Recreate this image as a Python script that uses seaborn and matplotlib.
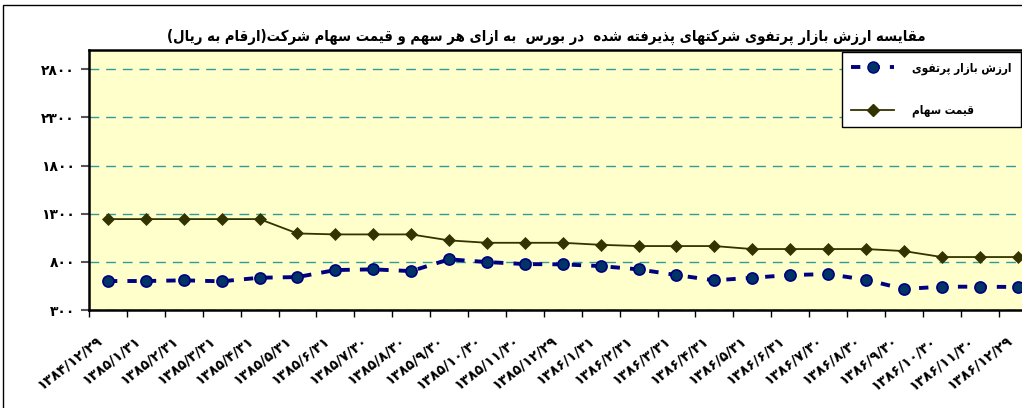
import numpy as np
import pandas as pd
import seaborn as sns
import matplotlib.pyplot as plt
from matplotlib.lines import Line2D
from matplotlib.patches import Rectangle
import matplotlib.transforms as mtransforms

# Data (values in rials)
dates = ['۱۳۸۴/۱۲/۲۹', '۱۳۸۵/۱/۳۱', '۱۳۸۵/۲/۳۱', '۱۳۸۵/۳/۳۱', '۱۳۸۵/۴/۳۱',
         '۱۳۸۵/۵/۳۱', '۱۳۸۵/۶/۳۱', '۱۳۸۵/۷/۳۰', '۱۳۸۵/۸/۳۰', '۱۳۸۵/۹/۳۰',
         '۱۳۸۵/۱۰/۳۰', '۱۳۸۵/۱۱/۳۰', '۱۳۸۵/۱۲/۲۹', '۱۳۸۶/۱/۳۱', '۱۳۸۶/۲/۳۱',
         '۱۳۸۶/۳/۳۱', '۱۳۸۶/۴/۳۱', '۱۳۸۶/۵/۳۱', '۱۳۸۶/۶/۳۱', '۱۳۸۶/۷/۳۰',
         '۱۳۸۶/۸/۳۰', '۱۳۸۶/۹/۳۰', '۱۳۸۶/۱۰/۳۰', '۱۳۸۶/۱۱/۳۰', '۱۳۸۶/۱۲/۲۹']
portfolio_value = [601, 601, 608, 598, 635, 642, 715, 722, 704, 826, 798, 777, 774,
                   756, 722, 663, 608, 635, 663, 673, 614, 518, 542, 542, 539]
share_price = [1244, 1244, 1244, 1244, 1244, 1095, 1085, 1085, 1085, 1023, 998, 998, 998,
               977, 964, 964, 964, 933, 933, 933, 933, 912, 850, 850, 850]
y_ticks = [300, 800, 1300, 1800, 2300, 2800]

title_fa = 'مقایسه ارزش بازار پرتفوی شرکتهای پذیرفته شده  در بورس  به ازای هر سهم و قیمت سهام شرکت(ارقام به ریال)'
label_portfolio = 'ارزش بازار پرتفوی'
label_price = 'قیمت سهام'

# matplotlib has no Arabic shaping: map letters to presentation forms, then reverse
FORMS = {
    'ا': ('\uFE8D', '\uFE8E'), 'د': ('\uFEA9', '\uFEAA'), 'ذ': ('\uFEAB', '\uFEAC'),
    'ر': ('\uFEAD', '\uFEAE'), 'ز': ('\uFEAF', '\uFEB0'), 'و': ('\uFEED', '\uFEEE'),
    'ب': ('\uFE8F', '\uFE90', '\uFE91', '\uFE92'), 'ت': ('\uFE95', '\uFE96', '\uFE97', '\uFE98'),
    'س': ('\uFEB1', '\uFEB2', '\uFEB3', '\uFEB4'), 'ش': ('\uFEB5', '\uFEB6', '\uFEB7', '\uFEB8'),
    'ف': ('\uFED1', '\uFED2', '\uFED3', '\uFED4'), 'ق': ('\uFED5', '\uFED6', '\uFED7', '\uFED8'),
    'ل': ('\uFEDD', '\uFEDE', '\uFEDF', '\uFEE0'), 'م': ('\uFEE1', '\uFEE2', '\uFEE3', '\uFEE4'),
    'ه': ('\uFEE9', '\uFEEA', '\uFEEB', '\uFEEC'), 'ی': ('\uFBFC', '\uFBFD', '\uFBFE', '\uFBFF'),
    'پ': ('\uFB56', '\uFB57', '\uFB58', '\uFB59'), 'ک': ('\uFB8E', '\uFB8F', '\uFB90', '\uFB91'),
}


def fa(s):
    out = []
    for i, c in enumerate(s):
        if c not in FORMS:
            out.append(c)
            continue
        f = FORMS[c]
        prev = s[i - 1] if i > 0 else ''
        nxt = s[i + 1] if i + 1 < len(s) else ''
        jp = prev in FORMS and len(FORMS[prev]) == 4
        jn = len(f) == 4 and nxt in FORMS
        if jp and jn:
            out.append(f[3])
        elif jp:
            out.append(f[1])
        elif jn:
            out.append(f[2])
        else:
            out.append(f[0])
    return ''.join(out)[::-1].translate(str.maketrans('()', ')('))


def fa_num(n):
    return str(n).translate(str.maketrans('0123456789', '۰۱۲۳۴۵۶۷۸۹'))


df = pd.DataFrame({'x': np.arange(len(dates)), 'date': dates,
                   'portfolio': portfolio_value, 'price': share_price})

plt.rcParams['font.family'] = ['DejaVu Sans']
fig = plt.figure(figsize=(10.22, 4.08), dpi=100)
ax = fig.add_axes([89 / 1022, 98 / 408, 947.5 / 1022, 260 / 408])
ax.set_facecolor('#FFFFCC')

c_port = '#000080'
c_price = '#333300'

sns.lineplot(data=df, x='x', y='price', ax=ax, color=c_price, lw=1.3,
             marker='D', markersize=6, markerfacecolor=c_price,
             markeredgecolor=c_price, markeredgewidth=0.5, legend=False, zorder=3)
sns.lineplot(data=df, x='x', y='portfolio', ax=ax, color=c_port, lw=2.8,
             linestyle=(0, (2.4, 2.6)), marker='o', markersize=8,
             markerfacecolor='#003366', markeredgecolor=c_port,
             markeredgewidth=1.2, legend=False, zorder=4)

ax.set_xlim(-0.5, len(dates) - 0.5)
ax.set_ylim(300, 3000)
ax.set_yticks(y_ticks)
ax.set_yticklabels([fa_num(v) for v in y_ticks], fontsize=10, fontweight='bold')
ax.yaxis.grid(True, color='#339999', linestyle=(0, (7, 5)), lw=1)
ax.set_axisbelow(True)
ax.tick_params(axis='y', length=6, width=1.5, color='#555555', pad=4)

ax.set_xticks(np.arange(len(dates)))
ax.set_xticklabels(dates, rotation=38, ha='right', va='center',
                   rotation_mode='anchor', fontsize=10, fontweight='bold')
ax.set_xticks(np.arange(len(dates) + 1) - 0.5, minor=True)
ax.tick_params(axis='x', which='major', length=0, pad=21)
ax.tick_params(axis='x', which='minor', length=5, width=1, color='black')
shift = mtransforms.ScaledTranslation(-8 / 100, 0, fig.dpi_scale_trans)
for lab in ax.get_xticklabels():
    lab.set_transform(lab.get_transform() + shift)

ax.set_xlabel('')
ax.set_ylabel('')
for s in ax.spines.values():
    s.set_linewidth(1.8)
    s.set_color('black')

fig.text(546 / 1022, 1 - 37 / 408, fa(title_fa), ha='center', va='center',
         fontsize=10.6, fontweight='bold', fontstretch='condensed')

handles = [
    Line2D([], [], color=c_port, lw=2.8, linestyle=(0, (2.4, 2.6)), marker='o',
           markersize=8, markerfacecolor='#003366', markeredgecolor=c_port),
    Line2D([], [], color=c_price, lw=1.3, marker='D', markersize=6,
           markerfacecolor=c_price, markeredgecolor=c_price),
]
leg = fig.legend(handles, [fa(label_portfolio), fa(label_price)],
                 loc='upper left', bbox_to_anchor=(842 / 1022, 1 - 52 / 408),
                 frameon=True, fancybox=False, framealpha=1, edgecolor='black',
                 handlelength=3.6, handletextpad=1.5, labelspacing=2.45,
                 borderpad=0.8, borderaxespad=0,
                 prop={'weight': 'bold', 'size': 8.5, 'stretch': 'condensed'})
leg.get_frame().set_linewidth(1)

# outer chart frame
fig.add_artist(Rectangle((3 / 1022, -0.1), 1.2, 1.1 - 5 / 408,
                         transform=fig.transFigure, fill=False, lw=1, ec='black'))

fig.savefig('out.png', dpi=100)
